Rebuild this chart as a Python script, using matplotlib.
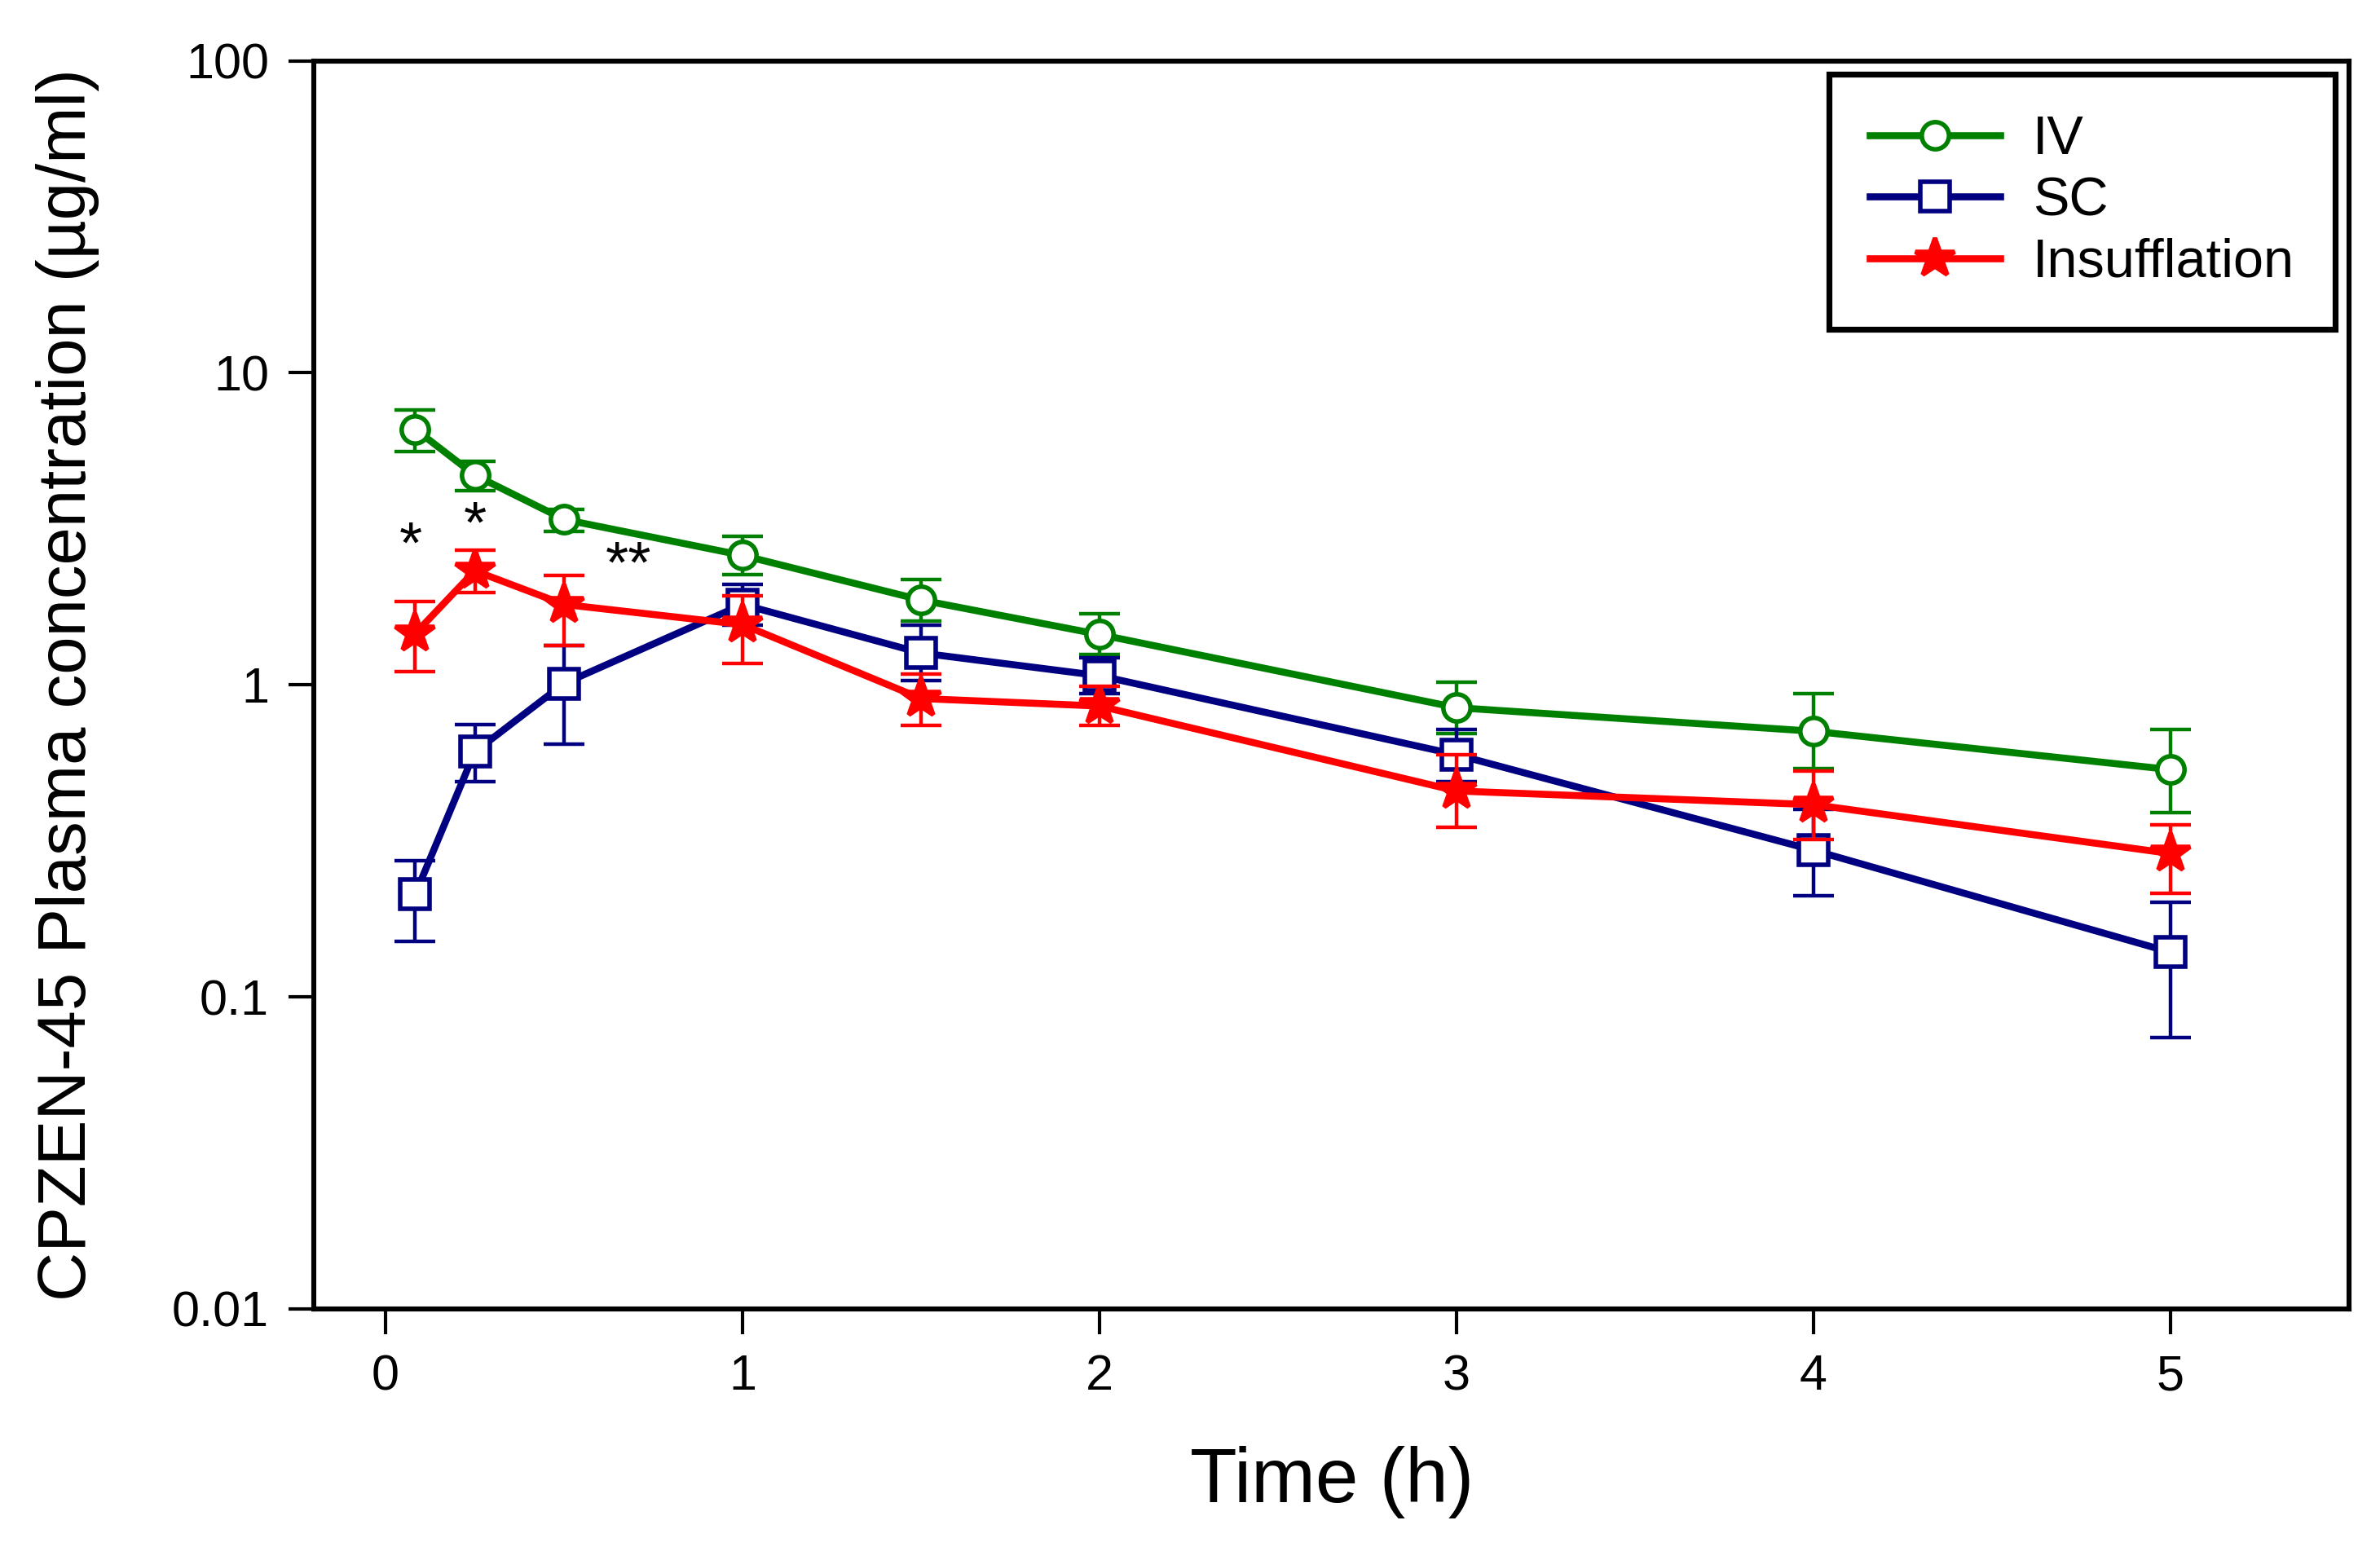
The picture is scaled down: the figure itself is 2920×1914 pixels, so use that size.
import numpy as np
import matplotlib
matplotlib.use("Agg")
import matplotlib.pyplot as plt
from matplotlib.ticker import FixedLocator, FixedFormatter, NullLocator

plt.rcParams['font.family'] = ['Liberation Sans', 'DejaVu Sans']

# time points (h)
time = [0.083, 0.25, 0.5, 1, 1.5, 2, 3, 4, 5]

# IV
iv_mean = [6.6, 4.7, 3.39, 2.6, 1.87, 1.45, 0.845, 0.71, 0.535]
iv_lo = [5.6, 4.2, 3.1, 2.25, 1.6, 1.25, 0.70, 0.54, 0.39]
iv_hi = [7.6, 5.2, 3.65, 3.0, 2.17, 1.69, 1.02, 0.935, 0.72]

# SC
sc_mean = [0.213, 0.61, 1.01, 1.81, 1.265, 1.07, 0.597, 0.295, 0.139]
sc_lo = [0.151, 0.49, 0.645, 1.55, 1.03, 0.94, 0.49, 0.211, 0.074]
sc_hi = [0.273, 0.747, 1.34, 2.1, 1.55, 1.22, 0.72, 0.40, 0.201]

# Insufflation
ins_mean = [1.46, 2.32, 1.81, 1.56, 0.904, 0.855, 0.457, 0.413, 0.288]
ins_lo = [1.1, 1.98, 1.34, 1.17, 0.74, 0.74, 0.349, 0.32, 0.215]
ins_hi = [1.85, 2.71, 2.24, 1.93, 1.08, 0.99, 0.597, 0.53, 0.356]

# significance marks
sig_x = [0.07, 0.25, 0.68]
sig_y = [2.75, 3.2, 2.38]
sig_txt = ['*', '*', '**']

fig = plt.figure(figsize=(14.6, 9.57), dpi=200)
ax = fig.add_axes([0.132, 0.161, 0.855, 0.8])

def err(m, lo, hi):
    m = np.array(m); return [m - np.array(lo), np.array(hi) - m]

series = [
    ('IV', iv_mean, iv_lo, iv_hi, '#008000', 'o', 12),
    ('SC', sc_mean, sc_lo, sc_hi, '#000080', 's', 13),
    ('Insufflation', ins_mean, ins_lo, ins_hi, '#ff0000', '*', 18),
]
handles = []
for name, m, lo, hi, c, mk, ms in series:
    ax.errorbar(time, m, yerr=err(m, lo, hi), fmt='none', ecolor=c,
                elinewidth=1.6, capsize=9, capthick=1.6)
    h, = ax.plot(time, m, color=c, lw=3.1, marker=mk, ms=ms,
                 mfc='white' if mk != '*' else c, mec=c, mew=2, label=name)
    handles.append(h)

for x, y, t in zip(sig_x, sig_y, sig_txt):
    ax.text(x, y, t, ha='center', va='center', fontsize=26, color='black')

ax.set_yscale('log')
ax.set_ylim(0.01, 100)
ax.set_xlim(-0.2, 5.5)
ax.yaxis.set_major_locator(FixedLocator([0.01, 0.1, 1, 10, 100]))
ax.yaxis.set_major_formatter(FixedFormatter(['0.01', '0.1', '1', '10', '100']))
ax.yaxis.set_minor_locator(NullLocator())
ax.set_xticks([0, 1, 2, 3, 4, 5])

for s in ax.spines.values():
    s.set_linewidth(2.2)
ax.tick_params(direction='out', length=11, width=1.5, labelsize=22, pad=9)

ax.set_xlabel('Time (h)', fontsize=34, labelpad=20)
ax.set_ylabel('CPZEN-45 Plasma concentration (µg/ml)', fontsize=30, labelpad=32)

leg = ax.legend(handles=handles, loc='upper right', fontsize=24, frameon=True,
                fancybox=False, edgecolor='black', framealpha=1,
                handlelength=2.4, borderaxespad=0.25, borderpad=0.75,
                labelspacing=0.2, handletextpad=0.6, numpoints=1)
leg.get_frame().set_linewidth(2.6)

fig.savefig('out.png', dpi=200)
